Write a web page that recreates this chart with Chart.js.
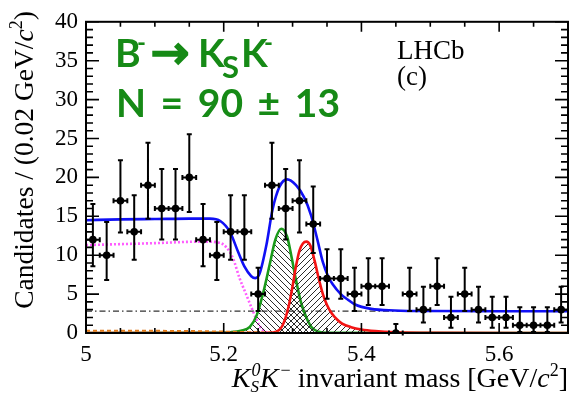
<!DOCTYPE html>
<html>
<head>
<meta charset="utf-8">
<script src="https://cdn.jsdelivr.net/npm/chart.js@4.4.1/dist/chart.umd.min.js"></script>
<style>
  html, body { margin: 0; padding: 0; background: #fff; }
  #wrap { width: 574px; height: 395px; }
</style>
</head>
<body>
<div id="wrap"><canvas id="massPlot" width="574" height="395"></canvas></div>
<script>
// K_S K- invariant mass spectrum, 0.02 GeV bins from 5.0 to 5.7
const binCenters = [5.01, 5.03, 5.05, 5.07, 5.09, 5.11, 5.13, 5.15, 5.17, 5.19,
                    5.21, 5.23, 5.25, 5.27, 5.29, 5.31, 5.33, 5.35, 5.37, 5.39,
                    5.41, 5.43, 5.45, 5.47, 5.49, 5.51, 5.53, 5.55, 5.57, 5.59,
                    5.61, 5.63, 5.65, 5.67, 5.69];
const counts = [12, 10, 17, 13, 19, 16, 16, 20, 12, 10,
                13, 13, 5, 19, 16, 17, 14, 7, 7, 5,
                6, 6, 0, 5, 3, 6, 2, 5, 3, 2,
                2, 1, 1, 1, 3];
// asymmetric Poisson errors
const errLow = [3.43, 3.20, 4.09, 3.57, 4.33, 3.97, 3.97, 4.44, 3.43, 3.20,
                3.57, 3.57, 2.18, 4.33, 3.97, 4.09, 3.71, 2.60, 2.60, 2.18,
                2.40, 2.40, 0, 2.18, 1.66, 2.40, 1.32, 2.18, 1.66, 1.32,
                1.32, 0.87, 0.87, 0.87, 1.66];
const errHigh = [4.57, 4.28, 5.21, 4.71, 5.44, 5.09, 5.09, 5.56, 4.57, 4.28,
                 4.71, 4.71, 3.40, 5.44, 5.09, 5.21, 4.84, 3.78, 3.78, 3.40,
                 3.60, 3.60, 1.15, 3.40, 2.94, 3.60, 2.66, 3.40, 2.94, 2.66,
                 2.66, 2.32, 2.32, 2.32, 2.94];

// fit components
const totalMass = [5.000, 5.050, 5.100, 5.150, 5.180, 5.195, 5.209, 5.221, 5.230, 5.240,
                   5.246, 5.252, 5.262, 5.271, 5.281, 5.292, 5.305, 5.317, 5.327, 5.336,
                   5.344, 5.352, 5.358, 5.370, 5.380, 5.390, 5.414, 5.448, 5.500, 5.600, 5.700];
const totalFit = [14.5, 14.6, 14.65, 14.7, 14.7, 14.4, 13.0, 10.4, 8.55, 7.3,
                  7.05, 7.6, 11.3, 15.9, 18.8, 19.75, 19.0, 17.4, 15.1, 12.0,
                  9.1, 7.2, 6.3, 5.0, 4.3, 3.7, 3.1, 2.9, 2.82, 2.8, 2.8];

const partRecoMass = [5.000, 5.100, 5.170, 5.194, 5.204, 5.2135, 5.2232, 5.2329, 5.2425, 5.2522, 5.2594, 5.270];
const partRecoFit = [11.3, 11.55, 11.75, 11.6, 11.0, 9.6, 7.0, 4.9, 2.8, 0.9, 0.2, 0];

const signalMass = [5.000, 5.180, 5.210, 5.225, 5.238, 5.248, 5.258, 5.267, 5.275, 5.2836,
                    5.292, 5.298, 5.305, 5.312, 5.320, 5.328, 5.338, 5.350, 5.700];
const signalFit = [0, 0.02, 0.1, 0.3, 0.8, 2.3, 5.4, 8.9, 12.0, 13.4,
                   12.4, 10.0, 6.8, 4.0, 2.0, 0.7, 0.15, 0.02, 0];

const misidMass = [5.000, 5.260, 5.272, 5.280, 5.285, 5.290, 5.295, 5.300, 5.305, 5.310,
                   5.315, 5.320, 5.326, 5.332, 5.338, 5.344, 5.350, 5.357, 5.365, 5.372,
                   5.385, 5.400, 5.420, 5.450, 5.500, 5.700];
const misidFit = [0, 0, 0.05, 0.35, 0.9, 2.0, 3.7, 6.0, 8.6, 10.6,
                  11.5, 11.75, 11.2, 9.3, 7.0, 5.0, 3.6, 2.5, 1.7, 1.2,
                  0.75, 0.45, 0.25, 0.1, 0.03, 0];

const combMass = [5.0, 5.7];
const combFit = [2.8, 2.8];

const otherMass = [5.00, 5.10, 5.15, 5.20, 5.25, 5.30];
const otherFit = [0.3, 0.28, 0.25, 0.18, 0.08, 0];

const xTickValues = [5, 5.2, 5.4, 5.6];
const yTickValues = [0, 5, 10, 15, 20, 25, 30, 35, 40];

const SERIF = '"Liberation Serif", "Times New Roman", serif';
const SANS = 'Lato, "Open Sans", sans-serif';

function toPoints(xs, ys) {
  return xs.map((x, i) => ({ x, y: ys[i] }));
}

// diagonal hatch tile, dir = 1 for "///", -1 for "\\\"
function makeHatch(dir) {
  const size = 6;
  const c = document.createElement('canvas');
  c.width = size;
  c.height = size;
  const g = c.getContext('2d');
  g.strokeStyle = '#2a2a2a';
  g.lineWidth = 1;
  g.beginPath();
  if (dir > 0) {
    g.moveTo(-1, size + 1); g.lineTo(size + 1, -1);
    g.moveTo(-1, 1); g.lineTo(1, -1);
    g.moveTo(size - 1, size + 1); g.lineTo(size + 1, size - 1);
  } else {
    g.moveTo(-1, -1); g.lineTo(size + 1, size + 1);
    g.moveTo(size - 1, -1); g.lineTo(size + 1, 1);
    g.moveTo(-1, size - 1); g.lineTo(1, size + 1);
  }
  g.stroke();
  return g.createPattern(c, 'repeat');
}

function curve(label, xs, ys, color, width, extra) {
  return Object.assign({
    type: 'line',
    label,
    data: toPoints(xs, ys),
    borderColor: color,
    borderWidth: width,
    pointRadius: 0,
    fill: false,
    cubicInterpolationMode: 'monotone',
    showLine: true
  }, extra || {});
}

// rich text helper: pieces of {t, font, dy, dx, noAdvance}
function drawPieces(ctx, pieces, x, y) {
  let cx = x;
  pieces.forEach(p => {
    ctx.font = p.font;
    ctx.fillText(p.t, cx + (p.dx || 0), y + (p.dy || 0));
    if (!p.noAdvance) cx += ctx.measureText(p.t).width + (p.dx || 0);
  });
  return cx - x;
}
function piecesWidth(ctx, pieces) {
  let w = 0;
  pieces.forEach(p => {
    ctx.font = p.font;
    if (!p.noAdvance) w += ctx.measureText(p.t).width + (p.dx || 0);
  });
  return w;
}

const framePlugin = {
  id: 'frameAndLabels',
  beforeDatasetDraw(chart, args) {
    if (args.index !== 0) return;
    // error bars under the data markers
    const ctx = chart.ctx;
    const xs = chart.scales.x, ys = chart.scales.y;
    ctx.save();
    ctx.strokeStyle = '#000';
    ctx.lineWidth = 2;
    ctx.beginPath();
    binCenters.forEach((m, i) => {
      const px = xs.getPixelForValue(m);
      const py = ys.getPixelForValue(counts[i]);
      const top = ys.getPixelForValue(counts[i] + errHigh[i]);
      const bot = ys.getPixelForValue(counts[i] - errLow[i]);
      const left = xs.getPixelForValue(m - 0.01);
      const right = xs.getPixelForValue(m + 0.01);
      ctx.moveTo(px, top); ctx.lineTo(px, bot);
      ctx.moveTo(px - 2.5, top); ctx.lineTo(px + 2.5, top);
      if (errLow[i] > 0) { ctx.moveTo(px - 2.5, bot); ctx.lineTo(px + 2.5, bot); }
      ctx.moveTo(left, py); ctx.lineTo(right, py);
      ctx.moveTo(left, py - 2.5); ctx.lineTo(left, py + 2.5);
      ctx.moveTo(right, py - 2.5); ctx.lineTo(right, py + 2.5);
    });
    ctx.stroke();
    ctx.restore();
  },
  afterDraw(chart) {
    const ctx = chart.ctx;
    const a = chart.chartArea;
    const xs = chart.scales.x, ys = chart.scales.y;
    ctx.save();

    // frame
    ctx.strokeStyle = '#000';
    ctx.lineWidth = 2;
    ctx.strokeRect(a.left, a.top, a.right - a.left, a.bottom - a.top);

    // ticks pointing inward
    ctx.lineWidth = 1.6;
    ctx.beginPath();
    for (let v = 0; v <= 40; v += 1) {
      const py = ys.getPixelForValue(v);
      const len = v % 5 === 0 ? 13 : 7;
      ctx.moveTo(a.left, py); ctx.lineTo(a.left + len, py);
      ctx.moveTo(a.right, py); ctx.lineTo(a.right - len, py);
    }
    for (let k = 0; k <= 14; k++) {
      const m = 5 + k * 0.05;
      const px = xs.getPixelForValue(m);
      const len = k % 4 === 0 ? 10 : 5;
      ctx.moveTo(px, a.bottom); ctx.lineTo(px, a.bottom - len);
      ctx.moveTo(px, a.top); ctx.lineTo(px, a.top + len);
    }
    ctx.stroke();

    // y axis title
    ctx.fillStyle = '#000';
    ctx.textBaseline = 'alphabetic';
    const yTitle = [
      { t: 'Candidates / (0.02 GeV/', font: '27.5px ' + SERIF },
      { t: 'c', font: 'italic 27.5px ' + SERIF },
      { t: '2', font: '18px ' + SERIF, dy: -11 },
      { t: ')', font: '27.5px ' + SERIF }
    ];
    ctx.save();
    ctx.translate(33, 160);
    ctx.rotate(-Math.PI / 2);
    const yw = piecesWidth(ctx, yTitle);
    drawPieces(ctx, yTitle, -yw / 2, 0);
    ctx.restore();

    // x axis title
    const xTitle = [
      { t: 'K', font: 'italic 28px ' + SERIF },
      { t: '0', font: 'italic 18px ' + SERIF, dy: -11, noAdvance: true, dx: 1 },
      { t: 'S', font: 'italic 17px ' + SERIF, dy: 5 },
      { t: 'K', font: 'italic 28px ' + SERIF, dx: 1 },
      { t: '\u2212', font: '18px ' + SERIF, dy: -11, dx: 2 },
      { t: ' invariant mass [GeV/', font: '28px ' + SERIF },
      { t: 'c', font: 'italic 28px ' + SERIF },
      { t: '2', font: '18px ' + SERIF, dy: -11 },
      { t: ']', font: '28px ' + SERIF }
    ];
    const xw = piecesWidth(ctx, xTitle);
    drawPieces(ctx, xTitle, 568 - xw, 387);

    // experiment label
    ctx.font = '27px ' + SERIF;
    ctx.fillText('LHCb', 397, 59);
    ctx.fillText('(c)', 397, 85);

    // decay and yield
    ctx.fillStyle = '#168a16';
    ctx.strokeStyle = '#168a16';
    ctx.font = 'bold 39px ' + SANS;
    ctx.fillText('B', 115, 67);
    ctx.font = 'bold 24px ' + SANS;
    ctx.fillText('-', 137, 51);
    ctx.font = '46px "DejaVu Sans", sans-serif';
    ctx.lineWidth = 2.2;
    ctx.strokeText('\u2192', 151, 68);
    ctx.fillText('\u2192', 151, 68);
    ctx.font = 'bold 39px ' + SANS;
    ctx.fillText('K', 198, 67);
    ctx.font = 'bold 31px ' + SANS;
    ctx.fillText('S', 222, 78);
    ctx.font = 'bold 39px ' + SANS;
    ctx.fillText('K', 241, 67);
    ctx.font = 'bold 24px ' + SANS;
    ctx.fillText('-', 264, 51);

    ctx.font = 'bold 39px ' + SANS;
    const yieldText = 'N = 90 \u00b1 13';
    const natural = ctx.measureText(yieldText).width;
    ctx.wordSpacing = ((340 - 116 - natural) / 4) + 'px';
    ctx.fillText(yieldText, 116, 117);
    ctx.wordSpacing = '0px';

    ctx.restore();
  }
};

new Chart(document.getElementById('massPlot'), {
  type: 'scatter',
  data: {
    datasets: [
      {
        label: 'Data',
        data: toPoints(binCenters, counts),
        pointRadius: 3.8,
        pointBackgroundColor: '#000',
        pointBorderColor: '#000',
        pointBorderWidth: 0,
        showLine: false
      },
      curve('Total', totalMass, totalFit, '#1010f5', 2.6),
      curve('Other', otherMass, otherFit, '#e07a1a', 2,
            { borderDash: [4, 3] }),
      curve('Misidentified', misidMass, misidFit, '#f21414', 2.6,
            { fill: 'origin', backgroundColor: makeHatch(1) }),
      curve('Signal', signalMass, signalFit, '#1a9a1a', 2.6,
            { fill: 'origin', backgroundColor: makeHatch(-1) }),
      curve('Partially reconstructed', partRecoMass, partRecoFit, '#ff5cff', 2.6,
            { borderDash: [2, 2] }),
      curve('Combinatorial', combMass, combFit, '#333', 1.2,
            { borderDash: [6, 3, 1.5, 3], cubicInterpolationMode: 'default' })
    ]
  },
  options: {
    responsive: false,
    animation: false,
    layout: { padding: { left: 0, right: 6, top: 15, bottom: 0 } },
    plugins: {
      legend: { display: false },
      tooltip: { enabled: false },
      title: { display: false }
    },
    scales: {
      x: {
        type: 'linear',
        min: 5,
        max: 5.7,
        grid: { display: false, drawTicks: false },
        border: { display: false },
        afterFit: s => { s.height = 62; },
        afterBuildTicks: s => { s.ticks = xTickValues.map(v => ({ value: v })); },
        ticks: {
          color: '#000',
          padding: 8,
          maxRotation: 0,
          font: { family: SERIF, size: 23 },
          callback: v => String(v)
        }
      },
      y: {
        type: 'linear',
        min: 0,
        max: 40,
        grid: { display: false, drawTicks: false },
        border: { display: false },
        afterFit: s => { s.width = 86; },
        afterBuildTicks: s => { s.ticks = yTickValues.map(v => ({ value: v })); },
        ticks: {
          color: '#000',
          padding: 8,
          font: { family: SERIF, size: 23 },
          callback: v => String(v)
        }
      }
    }
  },
  plugins: [framePlugin]
});
</script>
</body>
</html>
